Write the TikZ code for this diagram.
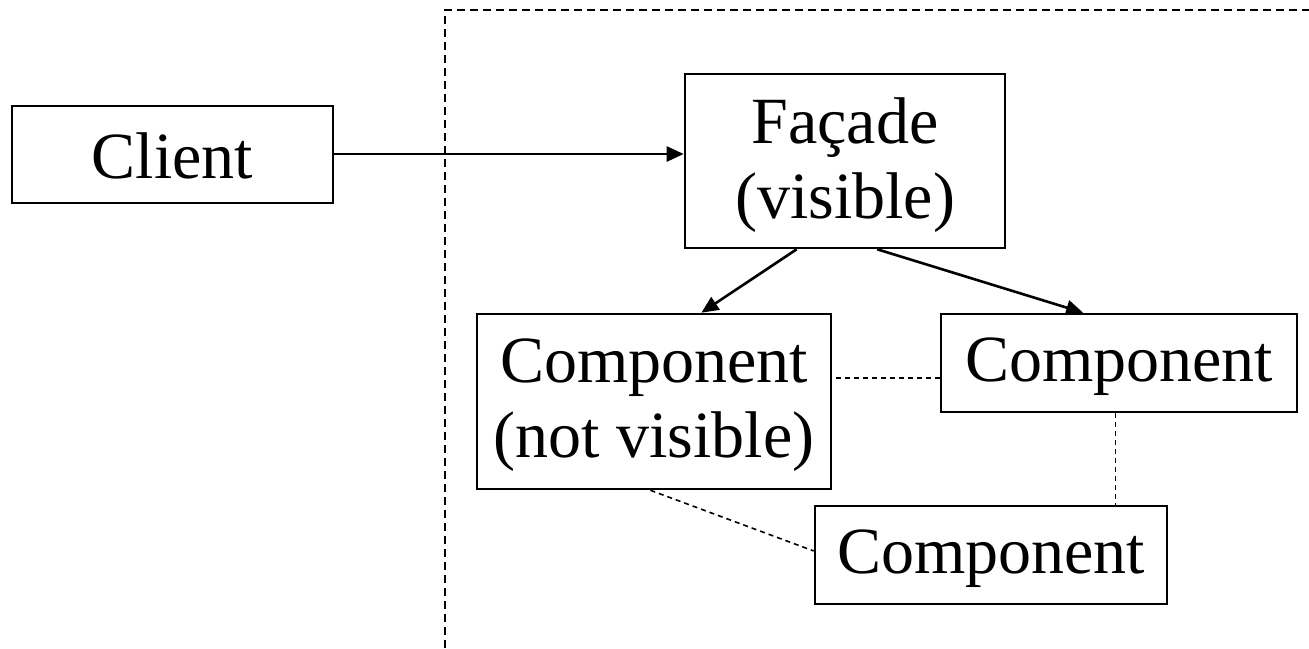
\documentclass[tikz,border=0pt]{standalone}
\usepackage{fontspec}
\setmainfont{Liberation Serif}
\usetikzlibrary{arrows.meta,calc}
\begin{document}
\begin{tikzpicture}[x=1pt,y=-1pt,
  box/.style={draw,line width=2.6pt,inner sep=0pt},
  txt/.style={inner sep=0pt,align=center,font=\fontsize{66}{75}\selectfont},
  call/.style={line width=2.6pt,-{Triangle[length=17pt,width=15pt]}},
  link/.style={line width=1.6pt,dash pattern=on 5pt off 4pt},
  boundary/.style={line width=1.8pt,dash pattern=on 8pt off 5pt}]
\useasboundingbox (0,0) rectangle (1309,648);
\fill[white] (0,0) rectangle (1309,648);

% subsystem boundary
\coordinate (bl) at (445,648);
\coordinate (tl) at (445,10);
\coordinate (tr) at (1309,10);
\draw[boundary] (bl) -- (tl) -- (tr);

% boxes
\node[box,minimum width=321pt,minimum height=97pt] (client) at (172.5,154.5) {};
\node[box,minimum width=320pt,minimum height=174pt] (facade) at (845,161) {};
\node[box,minimum width=354pt,minimum height=175pt] (hidden) at (654,401.5) {};
\node[box,minimum width=356pt,minimum height=98pt] (compR) at (1119,363) {};
\node[box,minimum width=352pt,minimum height=98pt] (compB) at (991,555) {};

% box labels
\node[txt] (clientT) at ([yshift=-1pt]client.center) {Client};
\node[txt] (facadeT) at ([yshift=-4pt]facade.center) {Façade\\(visible)};
\node[txt] (hiddenT) at ([yshift=-4pt]hidden.center) {Component\\(not visible)};
\node[txt] (compRT) at ([yshift=-4pt]compR.center) {Component};
\node[txt] (compBT) at ([yshift=-4pt]compB.center) {Component};

% calls
\draw[call] (client.east |- 0,154) -- (facade.west |- 0,154);
\draw[call] ($(facade.south west)!0.35!(facade.south east)$) -- ($(hidden.north west)!0.633!(hidden.north east)$);
\draw[call] ($(facade.south west)!0.6!(facade.south east)$) -- ($(compR.north west)!0.4!(compR.north east)$);

% internal links
\coordinate (lr) at ($(compR.north west)!0.65!(compR.south west)$);
\draw[link] (lr) -- (lr -| hidden.east);
\draw[link] ($(compR.south west)!0.49!(compR.south east)$) coordinate (vr) -- (vr |- compB.north);
\draw[link] ($(hidden.south west)!0.49!(hidden.south east)$) -- ($(compB.north west)!0.46!(compB.south west)$);
\end{tikzpicture}
\end{document}
